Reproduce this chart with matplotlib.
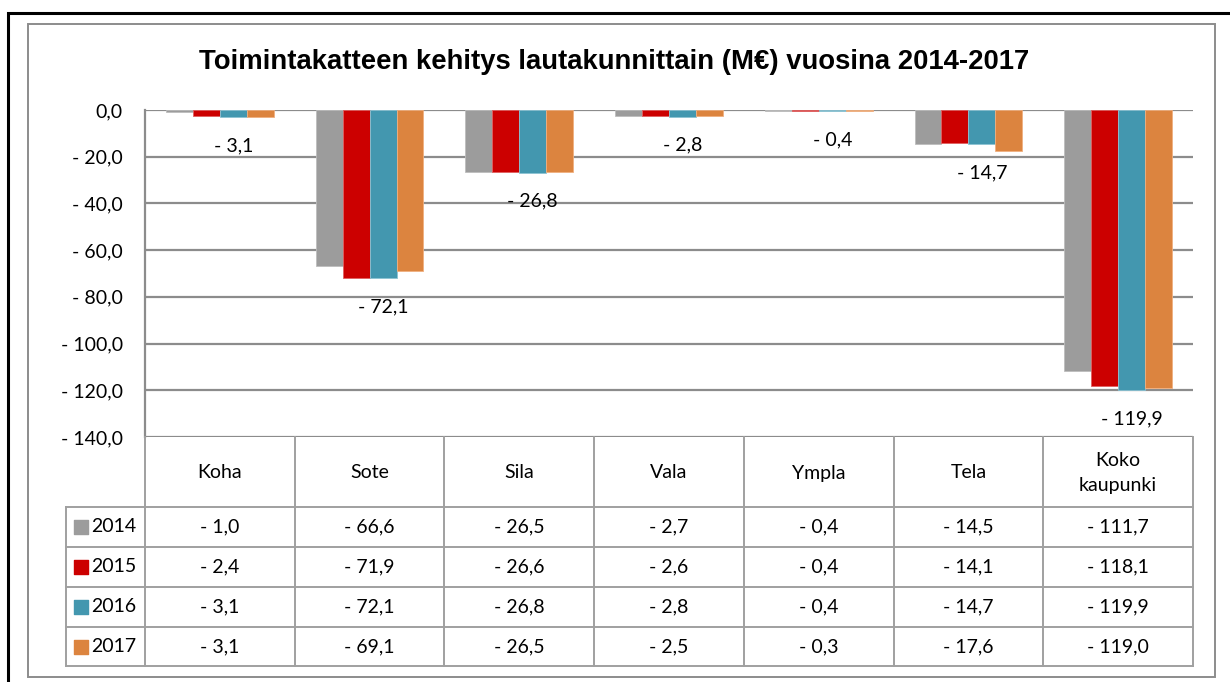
import matplotlib
matplotlib.use("Agg")
import matplotlib.pyplot as plt
from matplotlib.patches import Rectangle
import numpy as np

plt.rcParams['font.family'] = ['Lato', 'DejaVu Sans']

# data
kategoriat = ["Koha", "Sote", "Sila", "Vala", "Ympla", "Tela", "Koko\nkaupunki"]
vuodet = ["2014", "2015", "2016", "2017"]
v2014 = [-1.0, -66.6, -26.5, -2.7, -0.4, -14.5, -111.7]
v2015 = [-2.4, -71.9, -26.6, -2.6, -0.4, -14.1, -118.1]
v2016 = [-3.1, -72.1, -26.8, -2.8, -0.4, -14.7, -119.9]
v2017 = [-3.1, -69.1, -26.5, -2.5, -0.3, -17.6, -119.0]
sarjat = [v2014, v2015, v2016, v2017]
varit = ["#9c9c9c", "#cc0000", "#4397af", "#dc843f"]
reunat = ["#bdbdbd", "#e06060", "#8cc3d3", "#f0b080"]
y_ticks = [0, -20, -40, -60, -80, -100, -120, -140]

def fmt(v):
    s = f"{abs(v):.1f}".replace(".", ",")
    return "- " + s if v < 0 else s

W, H = 1230, 682
fig = plt.figure(figsize=(W / 100, H / 100), dpi=100)

def px(x0, y0, x1, y1):
    # pikseleistä figure-koordinaateiksi
    return [x0 / W, 1 - y1 / H, (x1 - x0) / W, (y1 - y0) / H]

# kehykset
fig.patches.append(Rectangle((8 / W, -0.1), 1.2, 1 - 13 / H + 0.1, transform=fig.transFigure,
                             fill=False, ec="black", lw=2.2, zorder=0))
fig.patches.append(Rectangle((28 / W, 1 - 677 / H), (1215 - 28) / W, (677 - 24) / H,
                             transform=fig.transFigure, fill=False, ec="#8c8c8c", lw=1.4, zorder=0))

fig.text(614 / W, 1 - 62 / H, "Toimintakatteen kehitys lautakunnittain (M€) vuosina 2014-2017",
         ha="center", va="center", fontsize=19.8, fontweight="bold", family="Liberation Sans")

gc = "#8c8c8c"
ax = fig.add_axes(px(145, 110, 1193, 437))
x = np.arange(len(kategoriat))
bw = 0.18
for i, (vals, c, e) in enumerate(zip(sarjat, varit, reunat)):
    ax.bar(x + (i - 1.5) * bw, vals, bw, color=c, edgecolor=e, linewidth=0.6, zorder=3)

for xi, v in zip(x, v2016):
    ax.annotate(fmt(v), (xi + 0.5 * bw, v), xytext=(0, -20.5), textcoords="offset points",
                ha="center", va="center", fontsize=14)

ax.set_xlim(-0.5, len(kategoriat) - 0.5)
ax.set_ylim(-140, 0)
ax.set_yticks(y_ticks)
ax.set_yticklabels([fmt(t) for t in y_ticks], fontsize=14)
ax.tick_params(axis="y", length=0, pad=16)
ax.set_xticks([])
ax.grid(axis="y", color=gc, lw=1.6, zorder=0)
for s in ["top", "right", "bottom"]:
    ax.spines[s].set_visible(False)
ax.spines["left"].set_color(gc)
ax.spines["left"].set_linewidth(1.6)

# datataulukko
n = len(kategoriat)
legw = 79 / ((1193 - 145) / n)
tx = fig.add_axes(px(66, 437, 1193, 666))
tx.set_xlim(-0.5 - legw, n - 0.5)
tx.set_ylim(0, 229)
tx.axis("off")
rivit = [159, 119, 79, 39, 0]
lc = "#a0a0a0"
tx.plot([-0.5, -0.5], [0, 229], color=lc, lw=1.4, clip_on=False)
for k in range(n):
    tx.plot([k + 0.5, k + 0.5], [0, 229], color=lc, lw=1.4, clip_on=False)
    tx.text(k, 193, kategoriat[k], ha="center", va="center", fontsize=14, linespacing=1.6)
for yy in rivit:
    tx.plot([-0.5 - legw, n - 0.5], [yy, yy], color=lc, lw=1.4, clip_on=False)
tx.plot([-0.5 - legw, -0.5 - legw], [0, 159], color=lc, lw=1.4, clip_on=False)
for r, (vuosi, vals, c) in enumerate(zip(vuodet, sarjat, varit)):
    yc = (rivit[r] + rivit[r + 1]) / 2
    tx.scatter([-0.5 - legw + 0.1], [yc], marker="s", s=100, color=c, clip_on=False)
    tx.text(-0.5 - legw + 0.17, yc, vuosi, ha="left", va="center", fontsize=14)
    for k in range(n):
        tx.text(k, yc, fmt(vals[k]), ha="center", va="center", fontsize=14)

fig.savefig("out.png", dpi=100)
